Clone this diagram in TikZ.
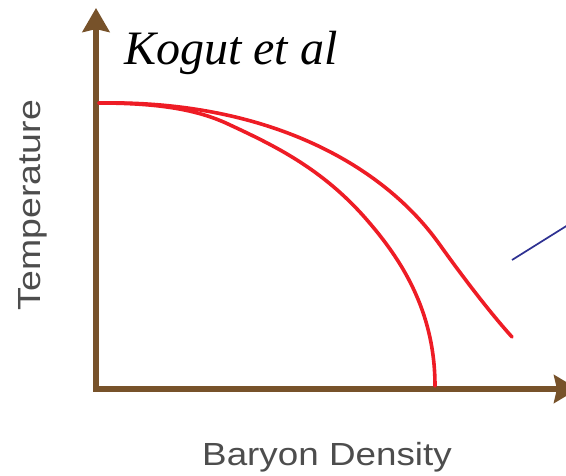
\documentclass[tikz,border=0pt]{standalone}
\usepackage{graphicx}
\usepackage{fontspec}
\newfontfamily\sansf{Liberation Sans}
\newfontfamily\seriff{Liberation Serif}
\usetikzlibrary{arrows.meta}
\definecolor{axisbrown}{HTML}{77522A}
\definecolor{curvered}{HTML}{EE1C25}
\definecolor{lblgray}{HTML}{4D4D4D}
\definecolor{lineblue}{HTML}{2E3192}
\tikzset{
  axisline/.style={draw=axisbrown, line width=6pt, line join=miter,
    {Stealth[length=24pt,width=27pt,inset=3pt]}-{Stealth[length=24pt,width=28pt,inset=3pt]}},
  phasecurve/.style={draw=curvered, line width=3.6pt, line cap=round},
  axislabel/.style={text=lblgray, font=\sansf\fontsize{32}{38}\selectfont, inner sep=0pt},
  authorlabel/.style={text=black, font=\seriff\itshape\fontsize{48}{56}\selectfont, inner sep=0pt},
  bluelink/.style={draw=lineblue, line width=1.7pt}
}
\begin{document}
\begin{tikzpicture}[x=1pt,y=-1pt]
\useasboundingbox (0,0) rectangle (566,476);
\coordinate (ytip) at (96,8);
\coordinate (origin) at (96,389);
\coordinate (xtip) at (578,389);
\draw[axisline] (ytip) -- (origin) -- (xtip);
\coordinate (top) at (99,103);
\coordinate (outerbend) at (440,245);
\coordinate (outerend) at (512,337);
\coordinate (innersplit) at (228,124);
\coordinate (innerbend) at (367,220);
\coordinate (innerend) at (435,386);
\draw[phasecurve] (top) .. controls (260,100) and (380,160) .. (outerbend)
  .. controls (455,266) and (485,307) .. (outerend);
\draw[phasecurve] (top) .. controls (160,103) and (198,110) .. (innersplit)
  .. controls (273,145) and (322,168) .. (innerbend)
  .. controls (400,258) and (435,310) .. (innerend);
\coordinate (bluestart) at (512,260);
\coordinate (blueend) at (568,225);
\draw[bluelink] (bluestart) -- (blueend);
\node[authorlabel, anchor=base west] (author) at (124,65) {Kogut et al};
\node[axislabel, anchor=base, rotate=90] (ylabel) at (40,205) {\scalebox{1.17}[1]{Temperature}};
\node[axislabel, anchor=base] (xlabel) at (327,465) {\scalebox{1.15}[1]{Baryon Density}};
\end{tikzpicture}
\end{document}
